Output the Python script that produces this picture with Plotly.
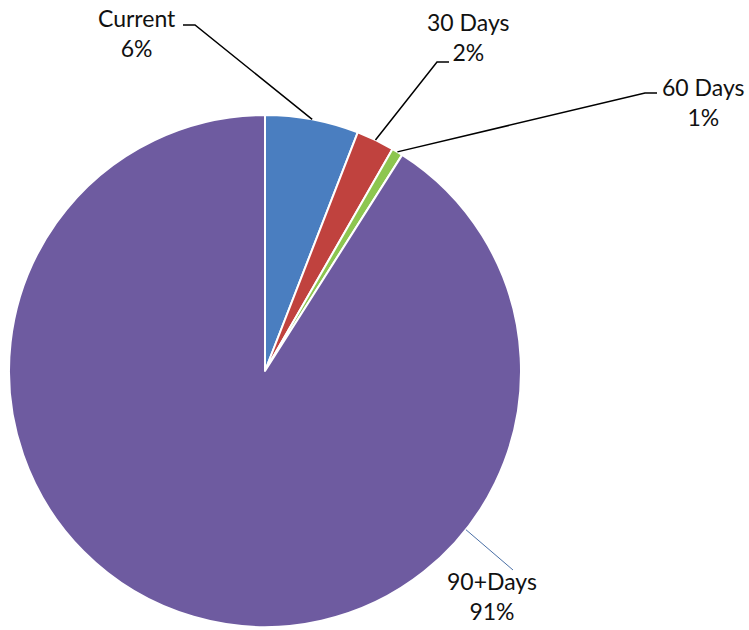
import math
import plotly.graph_objects as go

# ---- data ----
categories = ["Current", "30 Days", "60 Days", "90+Days"]
values = [5.9, 2.4, 0.7, 91.0]
pct_labels = ["6%", "2%", "1%", "91%"]
colors = ["#4a7ec0", "#c0423e", "#8dc650", "#6e5ba0"]

# ---- layout (pixels) ----
W, H = 749, 630
CX, CY, R = 265, 371, 256

def px(x):
    return x / W

def py(y):
    return 1 - y / H

fig = go.Figure()
fig.add_trace(go.Pie(
    labels=categories,
    values=values,
    sort=False,
    direction="clockwise",
    rotation=0,
    textinfo="none",
    hoverinfo="label+percent",
    marker=dict(colors=colors, line=dict(color="white", width=2)),
    domain=dict(x=[px(CX - R), px(CX + R)], y=[py(CY + R), py(CY - R)]),
    showlegend=False,
))

# anchor points on the pie edge, from the values
total = sum(values)
anchors = []
cum = 0
for v in values:
    ang = math.radians(360 * (cum + v / 2) / total)
    anchors.append((CX + R * math.sin(ang), CY - R * math.cos(ang)))
    cum += v
# 90+ leader sits off the slice middle, at this angle (deg clockwise from top)
a90 = math.radians(128.3)
anchors[3] = (CX + R * math.sin(a90), CY - R * math.cos(a90))

# label placement: (text centre x, text centre y, elbow points...)
label_pos = [
    dict(x=137, y=33, path=[(183, 25), (195, 25)]),
    dict(x=469, y=37, path=[(449, 62), (437, 62)]),
    dict(x=703, y=102, path=[(657, 93), (645, 93)]),
    dict(x=492, y=596, path=[(513, 570)]),
]

shapes = []
annotations = []
for i, (cat, pct) in enumerate(zip(categories, pct_labels)):
    lp = label_pos[i]
    pts = lp["path"] + [anchors[i]]
    d = "M " + " L ".join(f"{px(x):.5f},{py(y):.5f}" for x, y in pts)
    shapes.append(dict(
        type="path", path=d, xref="paper", yref="paper",
        line=dict(color="#4a6fa5" if i == 3 else "black", width=1 if i == 3 else 1.5),
    ))
    annotations.append(dict(
        text=f"{cat}<br>{pct}", x=px(lp["x"]), y=py(lp["y"]),
        xref="paper", yref="paper", xanchor="center", yanchor="middle",
        showarrow=False, align="center",
        font=dict(family="Lato, Calibri, sans-serif", size=23, color="#111111"),
    ))

fig.update_layout(
    width=W, height=H,
    margin=dict(l=0, r=0, t=0, b=0),
    paper_bgcolor="white",
    plot_bgcolor="white",
    shapes=shapes,
    annotations=annotations,
)

fig.write_html("out.html")
